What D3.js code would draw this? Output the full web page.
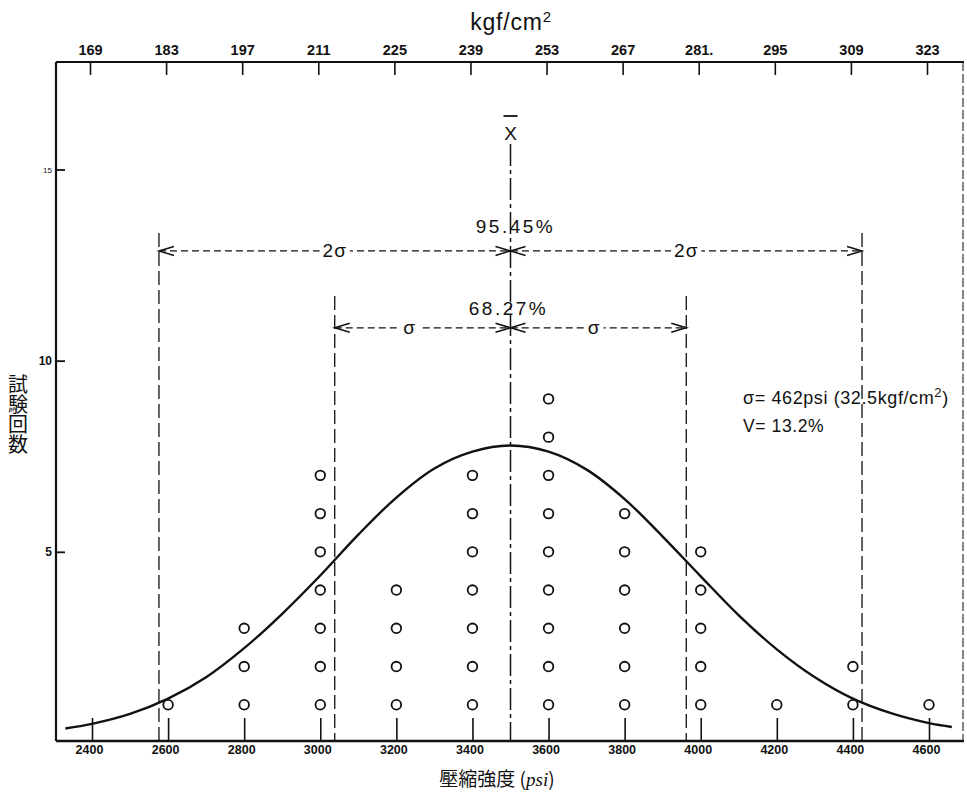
<!DOCTYPE html>
<html>
<head>
<meta charset="utf-8">
<script src="https://cdn.jsdelivr.net/npm/d3@7"></script>
<style>
  html, body { margin: 0; padding: 0; background: #fff; }
  svg { display: block; }
  text { font-family: "Liberation Sans", "DejaVu Sans", sans-serif; fill: #111; }
  .cjk { font-family: "Noto Sans CJK JP", "Noto Sans CJK TC", sans-serif; }
</style>
</head>
<body>
<svg id="chart" width="967" height="798"></svg>
<script>
// ---------------- data ----------------
const psiValues  = [2600, 2800, 3000, 3200, 3400, 3600, 3800, 4000, 4200, 4400, 4600];
const testCounts = [1, 3, 7, 4, 7, 9, 6, 5, 1, 2, 1];

const psiTicks   = [2400, 2600, 2800, 3000, 3200, 3400, 3600, 3800, 4000, 4200, 4400, 4600];
const kgfTicks   = [169, 183, 197, 211, 225, 239, 253, 267, 281, 295, 309, 323];
const kgfLabels  = ["169", "183", "197", "211", "225", "239", "253", "267", "281.", "295", "309", "323"];
const countTicks = [5, 10, 15];

// fitted normal curve
const curvePsi   = [2330, 2400, 2500, 2600, 2700, 2800, 2900, 3000, 3100, 3200, 3300, 3400, 3500, 3600, 3700, 3800, 3900, 4000, 4100, 4200, 4300, 4400, 4500, 4600, 4660];
const curveCount = [0.38, 0.50, 0.76, 1.16, 1.72, 2.48, 3.38, 4.38, 5.45, 6.42, 7.18, 7.62, 7.78, 7.62, 7.15, 6.38, 5.40, 4.36, 3.34, 2.45, 1.72, 1.16, 0.78, 0.52, 0.42];

const meanPsi  = 3500;
const sigmaPsi = 462;

// ---------------- layout ----------------
const svg = d3.select("#chart");
const frame = { left: 56, right: 964, top: 62, bottom: 741 };

const x = d3.scaleLinear().domain([2400, 4600]).range([92, 929]);
const xTop = d3.scaleLinear().domain([169, 323]).range([90, 927]);
const y = d3.scaleLinear().domain([0, 15]).range([743, 169.5]);

// frame
svg.append("line").attr("x1", frame.left).attr("x2", frame.left).attr("y1", frame.top).attr("y2", frame.bottom)
  .attr("stroke", "#111").attr("stroke-width", 2.2);
svg.append("line").attr("x1", frame.left).attr("x2", frame.right).attr("y1", frame.bottom).attr("y2", frame.bottom)
  .attr("stroke", "#111").attr("stroke-width", 2.4);
svg.append("line").attr("x1", frame.left).attr("x2", frame.right).attr("y1", frame.top).attr("y2", frame.top)
  .attr("stroke", "#111").attr("stroke-width", 2);
svg.append("line").attr("x1", frame.right - 1).attr("x2", frame.right - 1).attr("y1", frame.top).attr("y2", frame.bottom)
  .attr("stroke", "#333").attr("stroke-width", 1.2).attr("stroke-dasharray", "9,3");

// bottom axis
const gBottom = svg.append("g").attr("transform", `translate(0,${frame.bottom})`)
  .call(d3.axisBottom(x).tickValues(psiTicks).tickFormat(d3.format("d")).tickSizeInner(-23).tickSizeOuter(0).tickPadding(4));
gBottom.select(".domain").remove();
gBottom.selectAll(".tick line").attr("stroke", "#111").attr("stroke-width", 1.6);
gBottom.selectAll(".tick text").attr("font-size", 12.5).attr("font-weight", "bold").attr("dx", -3).attr("fill", "#111");

// top axis
const gTop = svg.append("g").attr("transform", `translate(0,${frame.top})`)
  .call(d3.axisTop(xTop).tickValues(kgfTicks).tickFormat((d, i) => kgfLabels[i]).tickSizeInner(-13).tickSizeOuter(0).tickPadding(7));
gTop.select(".domain").remove();
gTop.selectAll(".tick line").attr("stroke", "#111").attr("stroke-width", 1.6);
gTop.selectAll(".tick text").attr("font-size", 14.5).attr("font-weight", "bold").attr("fill", "#111");

// left axis
const gLeft = svg.append("g").attr("transform", `translate(${frame.left},0)`)
  .call(d3.axisLeft(y).tickValues(countTicks).tickFormat(d3.format("d")).tickSizeInner(-9).tickSizeOuter(0).tickPadding(4));
gLeft.select(".domain").remove();
gLeft.selectAll(".tick line").attr("stroke", "#111").attr("stroke-width", 1.8);
gLeft.selectAll(".tick text").attr("font-size", 12).attr("font-weight", "bold").attr("fill", "#111");
gLeft.selectAll(".tick text").filter(d => d === 15).attr("font-size", 8).attr("fill", "#888").attr("font-weight", "normal");

// axis titles
const topTitle = svg.append("text").attr("x", 511).attr("y", 30).attr("text-anchor", "middle")
  .attr("font-size", 23).attr("letter-spacing", 0.8);
topTitle.append("tspan").text("kgf/cm");
topTitle.append("tspan").attr("font-size", 15).attr("dy", -8).text("2");

const xTitle = svg.append("text").attr("class", "cjk").attr("x", 497).attr("y", 786).attr("text-anchor", "middle")
  .attr("font-size", 19).attr("fill", "#333");
xTitle.append("tspan").text("壓縮強度 (");
xTitle.append("tspan").attr("font-style", "italic").attr("font-family", "Liberation Serif, DejaVu Serif, serif").text("psi");
xTitle.append("tspan").text(")");

svg.append("text").attr("class", "cjk").attr("x", 18).attr("y", 414).attr("text-anchor", "middle")
  .attr("font-size", 20).attr("fill", "#333")
  .style("writing-mode", "vertical-rl").style("text-orientation", "upright")
  .text("試験回数");

// ---------------- annotations ----------------
const lvl2 = 12.87, lvl1 = 10.86;   // heights (in count units) of the dimension lines
const xm = x(meanPsi);

// mean line (dash-dot)
svg.append("line").attr("x1", xm).attr("x2", xm).attr("y1", 144).attr("y2", frame.bottom)
  .attr("stroke", "#111").attr("stroke-width", 1.5).attr("stroke-dasharray", "22,4,4,4");
// x-bar label
svg.append("text").attr("x", xm).attr("y", 140).attr("text-anchor", "middle").attr("font-size", 19).text("X");
svg.append("line").attr("x1", xm - 7).attr("x2", xm + 7).attr("y1", 116).attr("y2", 116).attr("stroke", "#111").attr("stroke-width", 1.8);

// sigma vertical lines
[[-2, 233], [2, 233], [-1, 296], [1, 296]].forEach(([k, top]) => {
  const xv = x(meanPsi + k * sigmaPsi);
  svg.append("line").attr("x1", xv).attr("x2", xv).attr("y1", top).attr("y2", frame.bottom)
    .attr("stroke", "#111").attr("stroke-width", 1.3).attr("stroke-dasharray", "14,5");
});

function arrowHead(xt, yt, dir) {
  // open arrowhead whose tip is at (xt, yt); dir = +1 points right, -1 points left
  const L = 15, H = 4.5;
  svg.append("path")
    .attr("d", `M${xt - dir * L},${yt - H} L${xt},${yt} L${xt - dir * L},${yt + H}`)
    .attr("fill", "none").attr("stroke", "#111").attr("stroke-width", 1.5);
}

function dimLine(k, level) {
  const yl = y(level);
  const xl = x(meanPsi - k * sigmaPsi), xr = x(meanPsi + k * sigmaPsi);
  svg.append("line").attr("x1", xl).attr("x2", xr).attr("y1", yl).attr("y2", yl)
    .attr("stroke", "#111").attr("stroke-width", 1.3).attr("stroke-dasharray", "7,4");
  arrowHead(xl, yl, -1);
  arrowHead(xm, yl, 1);
  arrowHead(xm, yl, -1);
  arrowHead(xr, yl, 1);
}
dimLine(2, lvl2);
dimLine(1, lvl1);

function lineLabel(psi, level, txt, size) {
  const t = svg.append("text").attr("x", x(psi)).attr("y", y(level) + 6).attr("text-anchor", "middle")
    .attr("font-size", size).attr("letter-spacing", 1).text(txt);
  const b = t.node().getBBox();
  svg.insert("rect", () => t.node()).attr("x", b.x - 3).attr("y", y(level) - 3).attr("width", b.width + 6).attr("height", 6).attr("fill", "#fff");
}
lineLabel(meanPsi - sigmaPsi, lvl2, "2σ", 19);
lineLabel(meanPsi + sigmaPsi, lvl2, "2σ", 19);
lineLabel(3235, lvl1, "σ", 19);
lineLabel(3720, lvl1, "σ", 19);

svg.append("text").attr("x", xm + 5).attr("y", 233).attr("text-anchor", "middle").attr("font-size", 19).attr("letter-spacing", 2.5).text("95.45%");
svg.append("text").attr("x", xm - 2).attr("y", 315).attr("text-anchor", "middle").attr("font-size", 19).attr("letter-spacing", 2.5).text("68.27%");

const st = svg.append("text").attr("x", 743).attr("y", 404).attr("font-size", 18).attr("letter-spacing", 0.6);
st.append("tspan").text("σ= 462psi (32.5kgf/cm");
st.append("tspan").attr("font-size", 13).attr("dy", -7).text("2");
st.append("tspan").attr("dy", 7).text(")");
svg.append("text").attr("x", 743).attr("y", 432).attr("font-size", 17.5).attr("letter-spacing", 0.6).text("V= 13.2%");

// ---------------- curve ----------------
const curvePts = curvePsi.map((p, i) => [p, curveCount[i]]);
svg.append("path").datum(curvePts)
  .attr("d", d3.line().x(d => x(d[0])).y(d => y(d[1])).curve(d3.curveCatmullRom.alpha(0.5)))
  .attr("fill", "none").attr("stroke", "#111").attr("stroke-width", 2.4);

// ---------------- points ----------------
const dots = [];
psiValues.forEach((p, i) => { for (let c = 1; c <= testCounts[i]; c++) dots.push({ psi: p, count: c }); });
svg.append("g").selectAll("circle").data(dots).join("circle")
  .attr("cx", d => x(d.psi)).attr("cy", d => y(d.count)).attr("r", 4.8)
  .attr("fill", "#fff").attr("stroke", "#111").attr("stroke-width", 1.8);
</script>
</body>
</html>
